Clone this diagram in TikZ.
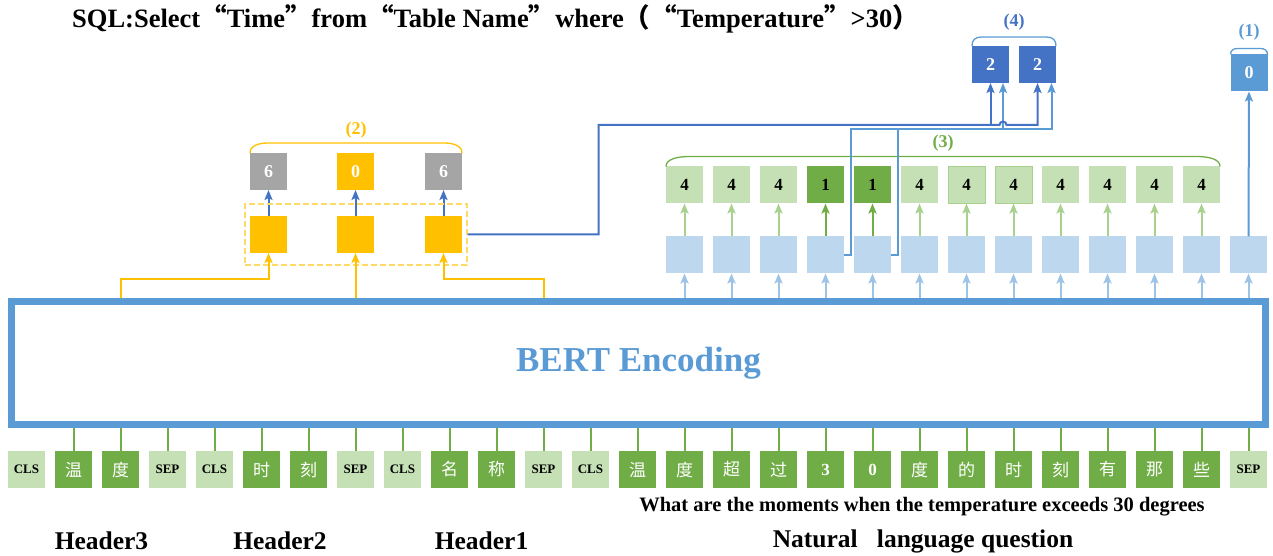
\documentclass[tikz,border=0pt]{standalone}
\usepackage{fontspec}
\setmainfont{Liberation Serif}
\newfontfamily\cjk{Noto Sans CJK SC}
\usetikzlibrary{arrows.meta,positioning,calc,fit}

\definecolor{bertblue}{HTML}{5B9BD5}
\definecolor{darkblue}{HTML}{4472C4}
\definecolor{paleblue}{HTML}{BDD7EE}
\definecolor{arrowblue}{HTML}{9DC3E6}
\definecolor{darkgreen}{HTML}{70AD47}
\definecolor{palegreen}{HTML}{C5E0B4}
\definecolor{midgreen}{HTML}{A9D18E}
\definecolor{gold}{HTML}{FFC000}
\definecolor{palegold}{HTML}{FFD966}
\definecolor{greybox}{HTML}{A5A5A5}

\tikzset{
  >={Stealth[length=10bp,width=8bp,inset=2bp]},
  cell/.style={minimum width=37bp, minimum height=37bp, inner sep=0pt, outer sep=0pt},
  tokl/.style={cell, fill=palegreen, font=\bfseries\fontsize{13bp}{15bp}\selectfont},
  tokd/.style={cell, fill=darkgreen, text=white, font=\cjk\fontsize{17bp}{20bp}\selectfont},
  tokn/.style={cell, fill=darkgreen, text=white, font=\bfseries\fontsize{17bp}{20bp}\selectfont},
  encbox/.style={cell, fill=paleblue},
  resl/.style={cell, fill=palegreen, font=\bfseries\fontsize{17bp}{20bp}\selectfont},
  resd/.style={resl, fill=darkgreen},
  resb/.style={resl, draw=midgreen, line width=1bp},
  ybox/.style={cell, fill=gold},
  obox/.style={cell, text=white, font=\bfseries\fontsize{18bp}{20bp}\selectfont},
  tag/.style={font=\bfseries\fontsize{18bp}{20bp}\selectfont},
  title/.style={font=\bfseries\fontsize{25.5bp}{28bp}\selectfont},
  dkarrow/.style={->, darkblue, line width=2bp},
  ltarrow/.style={->, bertblue, line width=2bp},
  yarrow/.style={->, gold, line width=2bp},
}

\begin{document}
\begin{tikzpicture}[x=1bp, y=-1bp]
  \useasboundingbox (0,0) rectangle (1273,556);

  % query
  \node[anchor=west, inner sep=0pt, font=\bfseries\fontsize{26.5bp}{30bp}\selectfont] (sql) at (72,19)
    {SQL:Select{\cjk “}Time{\cjk ”}from{\cjk “}Table Name{\cjk ”}where{\cjk （“}Temperature{\cjk ”}>30{\cjk ）}};

  % encoder
  \node[draw=bertblue, line width=7bp, minimum width=1254bp, minimum height=122bp, inner sep=0pt,
        text=bertblue, font=\bfseries\fontsize{35bp}{40bp}\selectfont] (bert) at (638.5,363) {BERT Encoding};

  % input tokens
  \foreach \t/\s [count=\i from 0] in {CLS/tokl,温/tokd,度/tokd,SEP/tokl,CLS/tokl,时/tokd,刻/tokd,SEP/tokl,
      CLS/tokl,名/tokd,称/tokd,SEP/tokl,CLS/tokl,温/tokd,度/tokd,超/tokd,过/tokd,3/tokn,0/tokn,
      度/tokd,的/tokd,时/tokd,刻/tokd,有/tokd,那/tokd,些/tokd,SEP/tokl}
    \node[\s] (t\i) at ({26.5+47*\i},469.5) {\t};
  \foreach \i in {1,...,26}
    \draw[darkgreen, line width=2bp] (t\i.north |- bert.south) -- (t\i.north);

  \node[title] (h3) at (101.5,541) {Header3};
  \node[title] (h2) at (280,541) {Header2};
  \node[title] (h1) at (481.5,541) {Header1};
  \node[title] (nlq) at (923,541) {Natural\ \ \ language question};
  \node[font=\bfseries\fontsize{20.5bp}{22bp}\selectfont] (eng) at (922,507)
    {What are the moments when the temperature exceeds 30 degrees};

  % (2) header part
  \foreach \i/\x/\v/\c in {1/268.5/6/greybox,2/355.5/0/gold,3/443.5/6/greybox}{
    \node[ybox] (y\i) at (\x,234.5) {};
    \node[obox, fill=\c] (o\i) at (\x,171.5) {\v};
    \draw[dkarrow] (y\i) -- (o\i);
  }
  \node[fit=(y1)(y3), inner xsep=5bp, inner ysep=12bp, draw=palegold, dash pattern=on 6bp off 3bp,
        line width=1.3bp] (yfit) {};
  \draw[yarrow] (t2.north |- bert.north) -- ++(0,-19.5) -| (y1.south);
  \draw[yarrow] (y2.south |- bert.north) -- (y2.south);
  \draw[yarrow] (t11.north |- bert.north) -- ++(0,-19.5) -| (y3.south);
  \draw[gold, line width=1.3bp] (o1.north west) .. controls +(0,-7) and +(-10,0) .. ++(18,-10)
    -- ($(o3.north east)+(-18,-10)$) .. controls +(10,0) and +(0,-7) .. (o3.north east);
  \node[tag, text=gold] (l2) at (356,130) {(2)};

  % (3) question part
  \foreach \i in {14,...,26}{
    \node[encbox] (e\i) at ({26.5+47*\i},255) {};
    \draw[->, arrowblue, line width=2bp] (e\i.south |- bert.north) -- (e\i.south);
  }
  \foreach \i/\v/\s/\c in {14/4/resl/midgreen,15/4/resl/midgreen,16/4/resl/midgreen,17/1/resd/darkgreen,
      18/1/resd/darkgreen,19/4/resl/midgreen,20/4/resb/midgreen,21/4/resb/midgreen,22/4/resl/midgreen,
      23/4/resl/midgreen,24/4/resl/midgreen,25/4/resl/midgreen}{
    \node[\s] (r\i) at ({26.5+47*\i},185) {\v};
    \draw[->, \c, line width=2bp] (e\i.north) -- (r\i.south);
  }
  \draw[darkgreen, line width=1.3bp] (r14.north west) .. controls +(0,-7) and +(-14,0) .. ++(24,-10)
    -- ($(r25.north east)+(-24,-10)$) .. controls +(14,0) and +(0,-7) .. (r25.north east);
  \node[tag, text=darkgreen] (l3) at (943,143) {(3)};

  % (4) and (1)
  \node[obox, fill=darkblue] (f1) at (990.5,64.5) {2};
  \node[obox, fill=darkblue] (f2) at (1037.5,64.5) {2};
  \draw[bertblue, line width=1.3bp] (f1.north west) .. controls +(0,-6) and +(-7,0) .. ++(10,-9)
    -- ($(f2.north east)+(-10,-9)$) .. controls +(7,0) and +(0,-6) .. (f2.north east);
  \node[tag, text=darkblue] (l4) at (1014,22) {(4)};

  \node[obox, fill=bertblue] (one) at (1249,73) {0};
  \draw[bertblue, line width=1.3bp] (one.north west) .. controls +(0,-4) and +(-4,0) .. ++(7,-6)
    -- ($(one.north east)+(-7,-6)$) .. controls +(4,0) and +(0,-4) .. (one.north east);
  \node[tag, text=bertblue] (l1) at (1249,32) {(1)};
  \draw[ltarrow] (e26.north) -- (one.south);

  % routing to (4)
  \coordinate (dk) at (598.5,125);
  \coordinate (lt) at (851,129);
  \coordinate (f1l) at ($(f1.south)+(12.5,0)$);
  \coordinate (f2l) at ($(f2.south)+(14,0)$);
  \draw[ltarrow] (e17.east) -- (e17.east -| lt) |- (f2l |- lt) -- (f2l);
  \draw[ltarrow] (e18.east) -- ++(7,0) |- (f1l |- lt) -- (f1l);
  \draw[dkarrow] (yfit.east) -| (dk) -- (999.5,125) arc (180:360:3.5) -- (f2.south |- dk) -- (f2.south);
  \draw[dkarrow] (f1.south |- dk) -- (f1.south);
\end{tikzpicture}
\end{document}
